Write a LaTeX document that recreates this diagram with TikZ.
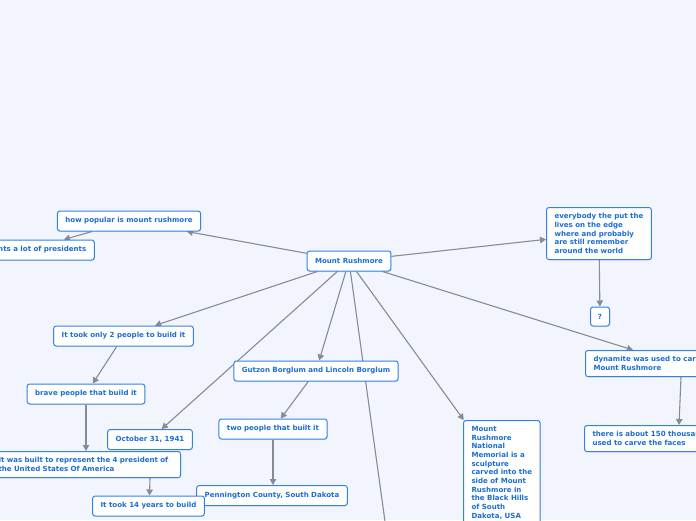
\documentclass[tikz,border=0pt]{standalone}
\usepackage{fontspec}
\setmainfont{DejaVu Sans}
\usetikzlibrary{arrows.meta,shadows,calc}
\definecolor{bgcol}{HTML}{F2F5FD}
\definecolor{nodeblue}{HTML}{3483E3}
\definecolor{textblue}{HTML}{1C6ED3}
\definecolor{linegray}{HTML}{878B95}
\pgfdeclarelayer{bglayer}
\pgfdeclarelayer{edges}
\pgfsetlayers{bglayer,edges,main}
\begin{document}
\begin{tikzpicture}[x=1pt,y=-1pt,
  box/.style={draw=nodeblue, line width=1pt, rounded corners=2.5pt, fill=white,
    text=textblue, font=\fontsize{7.05}{8.65}\selectfont\bfseries,
    inner xsep=8pt, inner ysep=6pt, minimum height=20pt, align=left,
    drop shadow={opacity=0.12, shadow xshift=0.8pt, shadow yshift=-1pt}},
  conn/.style={draw=linegray, line width=1.1pt, -{Triangle[length=6pt,width=6.5pt]}}]
\useasboundingbox (0,0) rectangle (696,520);
\begin{pgfonlayer}{bglayer}
\fill[bgcol] (0,0) rectangle (696,520);
\end{pgfonlayer}
\clip (0,0) rectangle (696,520);

\node[box] (mr) at (349,261) {Mount Rushmore};
\node[box] (pop) at (129,221) {how popular is mount rushmore};
\node[box] (nts) at (27,250) {represents a lot of presidents};
\node[box, anchor=north west] (every) at (546,207) {everybody the put the\\lives on the edge\\where and probably\\are still remember\\around the world};
\node[box, minimum width=19pt, minimum height=19pt, inner xsep=2pt] (q) at (600,316.5) {?};
\node[box, anchor=north west] (dyn) at (585,350) {dynamite was used to carve\\Mount Rushmore};
\node[box, anchor=north west] (there) at (584,425) {there is about 150 thousand\\used to carve the faces};
\node[box, anchor=north west] (natl) at (463,420) {Mount\\Rushmore\\National\\Memorial is a\\sculpture\\carved into the\\side of Mount\\Rushmore in\\the Black Hills\\of South\\Dakota, USA};
\node[box] (gutzon) at (316,371) {Gutzon Borglum and Lincoln Borglum};
\node[box] (two) at (273,429) {two people that built it};
\node[box] (penn) at (272,495.5) {Pennington County, South Dakota};
\node[box] (only2) at (123.5,336) {It took only 2 people to build it};
\node[box] (brave) at (86,394) {brave people that build it};
\node[box] (oct) at (150,439.5) {October 31, 1941};
\node[box, anchor=north west, text width=174pt] (built) at (-10,451) {It was built to represent the 4 president of\\the United States Of America};
\node[box] (yrs) at (148.5,506) {It took 14 years to build};
\coordinate (off) at (391,565);

\begin{pgfonlayer}{edges}
\draw[conn] (mr) -- (pop);
\draw[conn] (pop) -- (nts);
\draw[conn] (mr) -- (every);
\draw[conn] (every) -- (q);
\draw[conn] (mr) -- ($(dyn.north west)+(48,0)$);
\draw[conn] ($(dyn.south west)+(96,0)$) -- ($(there.north west)+(95,0)$);
\draw[conn] (mr) -- (natl);
\draw[conn] (mr) -- (gutzon);
\draw[conn] (gutzon) -- (two);
\draw[conn] (two) -- (two |- penn.north);
\draw[conn] (mr) -- (off);
\draw[conn] (mr) -- (only2);
\draw[conn] (only2) -- (brave);
\draw[conn] (mr) -- (oct);
\draw[conn] (brave) -- (brave |- built.north);
\draw[conn] ($(built.south west)+(160,0)$) -- ($(yrs.north)+(1,0)$);
\end{pgfonlayer}
\end{tikzpicture}
\end{document}
